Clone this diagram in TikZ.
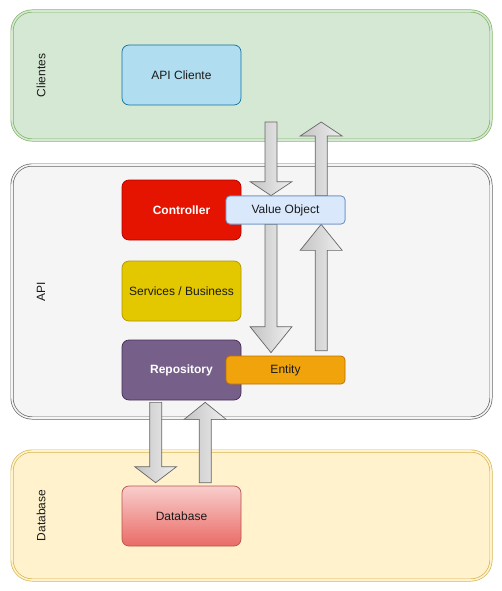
\documentclass[tikz,border=0pt]{standalone}
\usepackage{fontspec}
\setmainfont{Liberation Sans}
\usetikzlibrary{calc}
\definecolor{cliFill}{HTML}{D5E8D4}\definecolor{cliLine}{HTML}{82B366}
\definecolor{apiFill}{HTML}{F5F5F5}\definecolor{apiLine}{HTML}{666666}
\definecolor{dbFill}{HTML}{FFF2CC}\definecolor{dbLine}{HTML}{D6B656}
\definecolor{acFill}{HTML}{B1DDF0}\definecolor{acLine}{HTML}{10739E}
\definecolor{ctFill}{HTML}{E51400}\definecolor{ctLine}{HTML}{B20000}
\definecolor{svFill}{HTML}{E3C800}\definecolor{svLine}{HTML}{B09500}
\definecolor{rpFill}{HTML}{76608A}\definecolor{rpLine}{HTML}{432D57}
\definecolor{voFill}{HTML}{DAE8FC}\definecolor{voLine}{HTML}{6C8EBF}
\definecolor{enFill}{HTML}{F0A30A}\definecolor{enLine}{HTML}{BD7000}
\definecolor{dbTop}{HTML}{F8CECC}\definecolor{dbBot}{HTML}{EA6B66}\definecolor{dbBox}{HTML}{B85450}
\definecolor{arLine}{HTML}{666666}\definecolor{arDark}{HTML}{C4C4C4}\definecolor{arLight}{HTML}{EFEFEF}
\definecolor{txt}{HTML}{1A1A1A}
\tikzset{
  container/.style={line width=0.7pt, double distance=1.6pt, rounded corners=20pt},
  box/.style={minimum width=119pt, minimum height=60pt, rounded corners=7pt, line width=0.7pt, inner sep=0pt, font=\fontsize{12}{14}\selectfont, text=txt},
  tag/.style={minimum width=119pt, minimum height=28pt, rounded corners=4pt, line width=0.7pt, inner sep=0pt, font=\fontsize{12}{14}\selectfont, text=txt},
  sidelabel/.style={rotate=90, font=\fontsize{12}{14}\selectfont, text=txt},
  fatarrow/.style={draw=arLine, line width=0.7pt, left color=arDark, right color=arLight, line join=miter},
}
% vertical fat arrow from #1 to #2, head length #3
\newcommand\fatarrow[3]{%
  \path[fatarrow] let \p1=(#1), \p2=(#2), \n1={(\y1-\y2)/abs(\y1-\y2)} in
    ({\x1-6pt},\y1) -- ({\x1-6pt},{\y2+\n1*#3pt}) -- ({\x1-21pt},{\y2+\n1*#3pt}) -- (\x1,\y2)
    -- ({\x1+21pt},{\y2+\n1*#3pt}) -- ({\x1+6pt},{\y2+\n1*#3pt}) -- ({\x1+6pt},\y1) -- cycle;}
\begin{document}
\begin{tikzpicture}[x=1pt,y=-1pt]
\useasboundingbox (0,0) rectangle (502,591);
% containers
\path[container, fill=cliFill, draw=cliLine, double=cliFill] (12,11) rectangle (491,140);
\path[container, fill=apiFill, draw=apiLine, double=apiFill] (12,165) rectangle (491,418);
\path[container, fill=dbFill, draw=dbLine, double=dbFill] (12,451) rectangle (491,580);
\node[sidelabel] (lcli) at (41,75.5) {Clientes};
\node[sidelabel] (lapi) at (41,291.5) {API};
\node[sidelabel] (ldb) at (41,515.5) {Database};
% boxes
\node[box, fill=acFill, draw=acLine] (ac) at (181.5,75) {API Cliente};
\node[box, fill=ctFill, draw=ctLine, text=white, font=\fontsize{12}{14}\selectfont\bfseries] (ct) at (181.5,210) {Controller};
\node[box, fill=svFill, draw=svLine] (sv) at (181.5,291) {Services / Business};
\node[box, fill=rpFill, draw=rpLine, text=white, font=\fontsize{12}{14}\selectfont\bfseries] (rp) at (181.5,370) {Repository};
\node[box, draw=dbBox, top color=dbTop, bottom color=dbBot] (db) at (181.5,516) {Database};
\node[tag, fill=voFill, draw=voLine] (vo) at (285.5,210) {Value Object};
\node[tag, fill=enFill, draw=enLine] (en) at (285.5,370) {Entity};
% arrow end points
\coordinate (a1s) at (271,122);
\coordinate (a1e) at (vo.north -| a1s);
\coordinate (a2s) at ($(vo.north west)+(95.5,0)$);
\coordinate (a2e) at (321.5,122);
\coordinate (a3s) at (vo.south -| a1s);
\coordinate (a3e) at ($(en.north -| a1s)+(0,-3)$);
\coordinate (a4s) at ($(en.north -| a2s)+(0,-5)$);
\coordinate (a4e) at (vo.south -| a2s);
\coordinate (a5s) at ($(rp.south west)+(34,2)$);
\coordinate (a5e) at ($(db.north west)+(34,-3)$);
\coordinate (a6s) at ($(db.north west)+(83.5,-3)$);
\coordinate (a6e) at ($(rp.south west)+(83.5,2)$);
\fatarrow{a1s}{a1e}{14}
\fatarrow{a2s}{a2e}{14}
\fatarrow{a3s}{a3e}{26}
\fatarrow{a4s}{a4e}{26}
\fatarrow{a5s}{a5e}{16}
\fatarrow{a6s}{a6e}{17}
% redraw value object on top of arrows
\node[tag, fill=voFill, draw=voLine] at (vo) {Value Object};
\end{tikzpicture}
\end{document}
